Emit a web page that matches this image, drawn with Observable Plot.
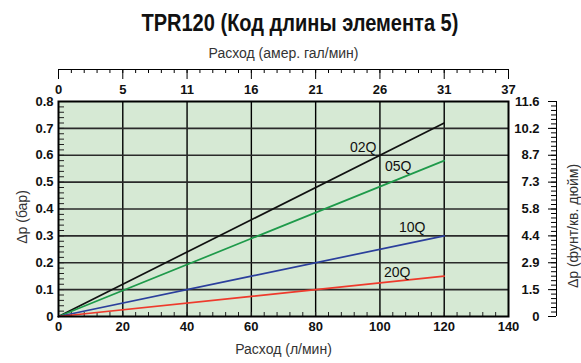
<!DOCTYPE html>
<html><head><meta charset="utf-8">
<script src="https://cdn.jsdelivr.net/npm/d3@7"></script>
<script src="https://cdn.jsdelivr.net/npm/@observablehq/plot@0.6"></script>
<style>
body{margin:0;background:#fff;}
#title{width:581px;height:46px;line-height:46px;text-align:center;overflow:hidden;white-space:nowrap}
#title span{display:inline-block;font-family:"Liberation Sans",Arial,sans-serif;font-weight:bold;font-size:24px;color:#111;transform-origin:center center;position:relative;left:9px}
#chart svg{display:block}
</style></head><body>
<div id="title"><span id="titleText"></span></div>
<div id="chart"></div>
<script>
// ---- data ----
const flowLpm = [0, 60, 120];
const seriesNames = ["02Q", "05Q", "10Q", "20Q"];
const dp02Q = [0, 0.36, 0.72];
const dp05Q = [0, 0.29, 0.58];
const dp10Q = [0, 0.15, 0.30];
const dp20Q = [0, 0.075, 0.15];
const lpmTicks = [0, 20, 40, 60, 80, 100, 120, 140];
const galLabels = ["0", "5", "11", "16", "21", "26", "31", "37"];
const barTicks = [0, 0.1, 0.2, 0.3, 0.4, 0.5, 0.6, 0.7, 0.8];
const barLabels = ["0", "0.1", "0.2", "0.3", "0.4", "0.5", "0.6", "0.7", "0.8"];
const psiLabels = ["0", "1.5", "2.9", "4.4", "5.8", "7.3", "8.7", "10.2", "11.6"];
const titleText = "TPR120 (Код длины элемента 5)";
const topAxisTitle = "Расход (амер. гал/мин)";
const bottomAxisTitle = "Расход (л/мин)";
const leftAxisTitle = "Δp (бар)";
const rightAxisTitle = "Δp (фунт/кв. дюйм)";

// ---- title (condensed to the reference width) ----
const tspan = document.getElementById("titleText");
tspan.textContent = titleText;
const tw = tspan.getBoundingClientRect().width;
tspan.style.transform = `scaleX(${317 / tw})`;

// ---- build table ----
const seriesValues = [dp02Q, dp05Q, dp10Q, dp20Q];
const colors = ["#111111", "#1e9a4a", "#2b3f9c", "#ee3a2c"];
const rows = [];
seriesNames.forEach((s, k) => flowLpm.forEach((f, i) => rows.push({series: s, flow: f, dp: seriesValues[k][i]})));
const lastRows = seriesNames.map((s, k) => ({series: s, flow: flowLpm[flowLpm.length - 1], dp: seriesValues[k][seriesValues[k].length - 1]}));
const labelOffsets = [[-81, 25], [-46, 6], [-32, -8], [-47, -4]];

const minorLpm = d3.range(0, 141, 4);
const minorBarLeft = d3.range(0, 41).map(i => i * 0.02);
const minorBarRight = d3.range(0, 49).map(i => i * 0.8 / 48);

const FONT = "Liberation Sans, Arial, Helvetica, sans-serif";
const fw = 450, fh = 215;
const topShift = -247, rightShift = 498;

const marks = [
  Plot.frame({fill: "#d6e9d4", stroke: null}),
  Plot.gridX({ticks: lpmTicks.slice(1, -1), stroke: "#000", strokeOpacity: 1, strokeWidth: 1.4}),
  Plot.gridY({ticks: barTicks.slice(1, -1), stroke: "#2a2a2a", strokeOpacity: 1, strokeWidth: 1.6}),
  // inward minor ticks
  Plot.axisY({anchor: "right", dx: -fw, ticks: minorBarLeft, tickSize: 5, tickFormat: () => "", label: null, stroke: "#222"}),
  Plot.axisX({anchor: "top", dy: fh, ticks: minorLpm, tickSize: 5, tickFormat: () => "", label: null, stroke: "#222"}),
  // lines
  Plot.line(rows, {x: "flow", y: "dp", z: "series", stroke: d => colors[seriesNames.indexOf(d.series)], strokeWidth: 1.7}),
  ...lastRows.map((r, k) => Plot.text([r], {x: "flow", y: "dp", text: "series", dx: labelOffsets[k][0], dy: labelOffsets[k][1], fontSize: 14, fontFamily: FONT, fill: "#111"})),
  Plot.frame({stroke: "#000", strokeWidth: 2}),
  // left and bottom labels
  Plot.axisY({anchor: "left", ticks: barTicks, tickSize: 0, tickPadding: 5, tickFormat: d => barLabels[barTicks.indexOf(d)], fontSize: 13, fontWeight: "bold", fontFamily: FONT, label: null, fill: "#111"}),
  Plot.axisX({anchor: "bottom", ticks: lpmTicks, tickSize: 0, tickPadding: 5, fontSize: 13, fontWeight: "bold", fontFamily: FONT, label: null, fill: "#111"}),
  // top (gallons) axis
  Plot.ruleY([0], {dy: topShift, stroke: "#000", strokeWidth: 1}),
  Plot.axisX({anchor: "bottom", dy: topShift, ticks: minorLpm, tickSize: 4, tickFormat: () => "", label: null, stroke: "#000"}),
  Plot.axisX({anchor: "bottom", dy: topShift, ticks: lpmTicks, tickSize: 10, tickPadding: 5, tickFormat: d => galLabels[lpmTicks.indexOf(d)], fontSize: 13, fontWeight: "bold", fontFamily: FONT, label: null, stroke: "#000", fill: "#111"}),
  // right (psi) axis
  Plot.ruleX([0], {dx: rightShift, stroke: "#000", strokeWidth: 1}),
  Plot.axisY({anchor: "left", dx: rightShift, ticks: minorBarRight, tickSize: 5, tickFormat: () => "", label: null, stroke: "#000"}),
  Plot.axisY({anchor: "left", dx: rightShift, ticks: barTicks, tickSize: 8, tickPadding: 9, tickFormat: d => psiLabels[barTicks.indexOf(d)], fontSize: 13, fontWeight: "bold", fontFamily: FONT, label: null, stroke: "#000", fill: "#111"}),
  // axis titles
  Plot.text([topAxisTitle], {frameAnchor: "top", dy: -53, fontSize: 14, fontFamily: FONT, fill: "#333"}),
  Plot.text([bottomAxisTitle], {frameAnchor: "bottom", dy: 37, fontSize: 14, fontFamily: FONT, fill: "#333"}),
  Plot.text([leftAxisTitle], {frameAnchor: "left", textAnchor: "middle", dx: -36, dy: 8, rotate: -90, fontSize: 14, fontFamily: FONT, fill: "#333"}),
  Plot.text([rightAxisTitle], {frameAnchor: "right", textAnchor: "middle", dx: 65, dy: 17, rotate: -90, fontSize: 14, fontFamily: FONT, fill: "#333"})
];

const chart = Plot.plot({
  width: 581,
  height: 317,
  marginTop: 55,
  marginBottom: 47,
  marginLeft: 58,
  marginRight: 73,
  x: {domain: [0, 140]},
  y: {domain: [0, 0.8]},
  style: {fontFamily: FONT, background: "#fff", overflow: "visible"},
  marks
});
document.getElementById("chart").appendChild(chart);
</script>
</body></html>
